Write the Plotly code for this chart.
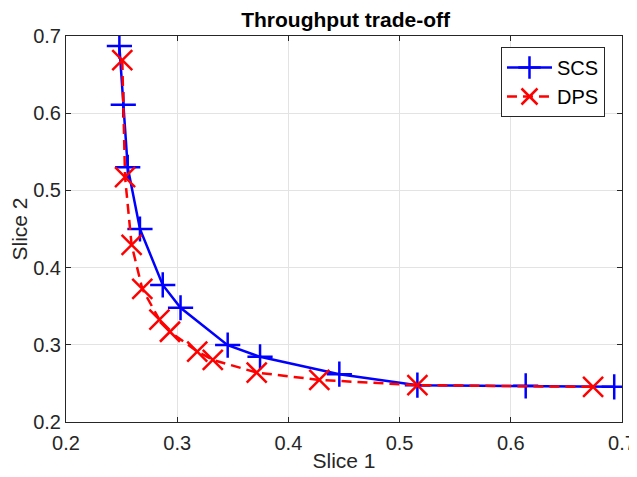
import plotly.graph_objects as go

scs_x = [0.248, 0.2515, 0.2555, 0.2665, 0.287, 0.303, 0.3454, 0.3745, 0.4458, 0.516, 0.6134, 0.693]
scs_y = [0.687, 0.611, 0.530, 0.450, 0.3775, 0.348, 0.2996, 0.2844, 0.2619, 0.2477, 0.2468, 0.2455]
dps_x = [0.2506, 0.2531, 0.259, 0.2686, 0.284, 0.2935, 0.318, 0.332, 0.3715, 0.4278, 0.516, 0.674]
dps_y = [0.6688, 0.5173, 0.4295, 0.3724, 0.3325, 0.3169, 0.2913, 0.2805, 0.264, 0.2545, 0.2477, 0.2455]

tick_vals_x = [0.2, 0.3, 0.4, 0.5, 0.6, 0.7]
tick_vals_y = [0.2, 0.3, 0.4, 0.5, 0.6, 0.7]

font = "Liberation Sans, Arial, sans-serif"

fig = go.Figure()
fig.add_trace(go.Scatter(
    x=scs_x, y=scs_y, name="SCS", mode="lines+markers",
    line=dict(color="#0000ff", width=2.5),
    marker=dict(symbol="cross-thin", size=18, line=dict(color="#0000ff", width=2.5), color="#0000ff"),
))
fig.add_trace(go.Scatter(
    x=dps_x, y=dps_y, name="DPS", mode="lines+markers",
    line=dict(color="#ff0000", width=2.5, dash="10px,6px"),
    marker=dict(symbol="x-thin", size=20, line=dict(color="#ff0000", width=2.5), color="#ff0000"),
))

axis_common = dict(
    showgrid=True, gridcolor="#e3e3e3", gridwidth=1,
    showline=True, linecolor="#262626", linewidth=1, mirror="ticks",
    ticks="inside", ticklen=5, tickcolor="#262626",
    tickfont=dict(family=font, size=20, color="#262626"),
    zeroline=False, automargin=False,
)

# the page body adds an 8px offset, so margins are shifted to compensate
fig.update_layout(
    width=637, height=477,
    paper_bgcolor="white", plot_bgcolor="white",
    margin=dict(l=58, r=23, t=28, b=63, autoexpand=False),
    title=dict(text="<b>Throughput trade-off</b>", x=0.53, xanchor="center", y=0.975, yanchor="middle",
               font=dict(family=font, size=21, color="black")),
    xaxis=dict(range=[0.2, 0.7], tickvals=tick_vals_x, ticktext=[f"{v:g}" for v in tick_vals_x],
               title=dict(text="Slice 1", font=dict(family=font, size=21, color="#262626"), standoff=0),
               ticklabelstandoff=3,
               **axis_common),
    yaxis=dict(range=[0.2, 0.7], tickvals=tick_vals_y, ticktext=[f"{v:g}" for v in tick_vals_y],
               title=dict(text="Slice 2", font=dict(family=font, size=21, color="#262626"), standoff=0),
               **axis_common),
    legend=dict(x=0.9694, y=0.9715, xanchor="right", yanchor="top",
                bgcolor="white", bordercolor="#262626", borderwidth=1,
                font=dict(family=font, size=20, color="black"),
                itemwidth=45, tracegroupgap=0),
    showlegend=True,
)

fig.write_html("out.html")
